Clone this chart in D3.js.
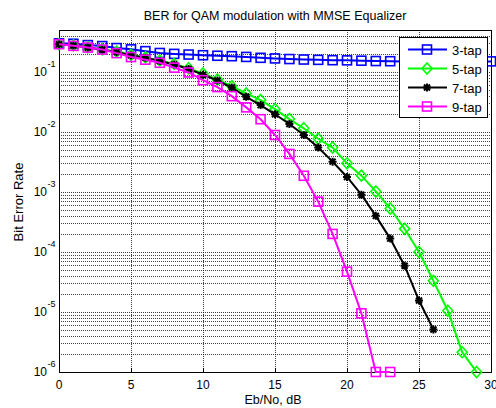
<!DOCTYPE html>
<html>
<head>
<meta charset="utf-8" />
<title>BER</title>
<style>
    body { margin: 0; background: #fff; }
    text { font-family: "Liberation Sans", Arial, sans-serif; fill: #000; }
</style>
</head>
<body>
<div id="chart"></div>
<script src="https://cdnjs.cloudflare.com/ajax/libs/d3/7.8.5/d3.min.js"></script>
<script>
    // Eb/No values (dB)
    var ebno = d3.range(0, 31);

    var tap3 = [0.30, 0.295, 0.28, 0.27, 0.25, 0.238, 0.222, 0.207, 0.20, 0.195, 0.19, 0.186, 0.183, 0.178, 0.172, 0.168,
        0.164, 0.161, 0.159, 0.157, 0.156, 0.154, 0.152, 0.151, 0.150, 0.150, 0.150, 0.150, 0.150, 0.150, 0.150];
    var tap5 = [0.29, 0.277, 0.258, 0.238, 0.218, 0.193, 0.175, 0.155, 0.136, 0.115, 0.094, 0.075, 0.058, 0.0439, 0.034,
        0.024, 0.0164, 0.0115, 0.0077, 0.0055, 0.0030, 0.00187, 0.00102, 5.3e-4, 2.43e-4, 1.0e-4, 3.3e-5, 1.05e-5, 2.14e-6, 1e-6];
    var tap7 = [0.29, 0.275, 0.255, 0.235, 0.215, 0.19, 0.172, 0.152, 0.133, 0.112, 0.09, 0.072, 0.055, 0.0385, 0.028,
        0.0197, 0.0136, 0.0089, 0.0055, 0.0032, 0.00178, 9.0e-4, 4.0e-4, 1.67e-4, 5.9e-5, 1.55e-5, 5.1e-6];
    var tap9 = [0.29, 0.272, 0.255, 0.236, 0.206, 0.177, 0.16, 0.142, 0.118, 0.098, 0.073, 0.056, 0.0395, 0.0257, 0.0163,
        0.0089, 0.0043, 0.00186, 6.9e-4, 2.0e-4, 4.7e-5, 9.5e-6, 1e-6, 1e-6];

    var xTicks = [0, 5, 10, 15, 20, 25, 30];
    var yDecades = [-6, -5, -4, -3, -2, -1];

    var series = [
        { name: "3-tap", values: tap3, color: "#0000ff", marker: "square" },
        { name: "5-tap", values: tap5, color: "#00ff00", marker: "diamond" },
        { name: "7-tap", values: tap7, color: "#000000", marker: "star" },
        { name: "9-tap", values: tap9, color: "#ff00ff", marker: "square" }
    ];

    var width = 496, height = 408;
    var plotLeft = 59, plotRight = 491, plotTop = 30, plotBottom = 372;

    var svg = d3.select("#chart").append("svg")
        .attr("width", width)
        .attr("height", height);

    var x = d3.scaleLinear().domain([0, 30]).range([plotLeft, plotRight]);
    var y = d3.scaleLog().domain([1e-6, 0.5]).range([plotBottom, plotTop]);

    // grid
    var grid = svg.append("g")
        .attr("stroke", "#000")
        .attr("stroke-width", 1)
        .attr("stroke-opacity", 0.75)
        .attr("stroke-dasharray", "1,1")
        .attr("shape-rendering", "crispEdges");

    var yGrid = [];
    yDecades.forEach(function (e) {
        for (var m = 1; m <= 9; m++) {
            var v = m * Math.pow(10, e);
            if (v <= 0.5 && v > 1e-6) yGrid.push(v);
        }
    });
    grid.selectAll("line.y")
        .data(yGrid)
        .join("line")
        .attr("x1", plotLeft).attr("x2", plotRight)
        .attr("y1", d => Math.round(y(d)) + 0.5)
        .attr("y2", d => Math.round(y(d)) + 0.5);
    grid.selectAll("line.x")
        .data(xTicks.slice(1, -1))
        .join("line")
        .attr("y1", plotTop).attr("y2", plotBottom)
        .attr("x1", d => Math.round(x(d)) + 0.5)
        .attr("x2", d => Math.round(x(d)) + 0.5);

    // axes box and ticks
    var axis = svg.append("g")
        .attr("stroke", "#000")
        .attr("shape-rendering", "crispEdges");
    axis.append("rect")
        .attr("x", plotLeft + 0.5).attr("y", plotTop + 0.5)
        .attr("width", plotRight - plotLeft).attr("height", plotBottom - plotTop)
        .attr("fill", "none");
    axis.selectAll("line.xt")
        .data(xTicks)
        .join("line")
        .attr("x1", d => Math.round(x(d)) + 0.5)
        .attr("x2", d => Math.round(x(d)) + 0.5)
        .attr("y1", plotBottom).attr("y2", plotBottom - 4);

    svg.append("g")
        .attr("font-size", 12)
        .attr("text-anchor", "middle")
        .selectAll("text")
        .data(xTicks)
        .join("text")
        .attr("x", d => x(d))
        .attr("y", 389)
        .text(d => d);

    var yl = svg.append("g")
        .attr("font-size", 12)
        .selectAll("g")
        .data(yDecades)
        .join("g")
        .attr("transform", d => "translate(0," + y(Math.pow(10, d)) + ")");
    yl.append("text")
        .attr("x", 47).attr("y", 4.3)
        .attr("text-anchor", "end")
        .text("10");
    yl.append("text")
        .attr("x", 47.5).attr("y", -5)
        .attr("font-size", 9)
        .text(d => d);

    // title and labels
    svg.append("text")
        .attr("x", 275).attr("y", 19.5)
        .attr("text-anchor", "middle")
        .attr("font-size", 12.5)
        .text("BER for QAM modulation with MMSE Equalizer");
    svg.append("text")
        .attr("x", 273).attr("y", 404)
        .attr("text-anchor", "middle")
        .attr("font-size", 12.5)
        .text("Eb/No, dB");
    svg.append("text")
        .attr("transform", "translate(23,202) rotate(-90)")
        .attr("text-anchor", "middle")
        .attr("font-size", 13)
        .text("Bit Error Rate");

    function drawMarker(g, type, color) {
        if (type === "square") {
            g.append("rect")
                .attr("x", -4.5).attr("y", -4.5)
                .attr("width", 9).attr("height", 9)
                .attr("fill", "none")
                .attr("stroke", color)
                .attr("stroke-width", 1.6);
        } else if (type === "diamond") {
            g.append("path")
                .attr("d", "M0,-5.5L5,0L0,5.5L-5,0Z")
                .attr("fill", "none")
                .attr("stroke", color)
                .attr("stroke-width", 1.6);
        } else {
            g.append("path")
                .attr("d", "M-4,0L4,0M0,-4L0,4M-3,-3L3,3M-3,3L3,-3")
                .attr("stroke", color)
                .attr("stroke-width", 2);
        }
    }

    var line = d3.line()
        .x((d, i) => x(ebno[i]))
        .y(d => y(d));

    var plot = svg.append("g");
    series.forEach(function (s) {
        var g = plot.append("g");
        g.append("path")
            .attr("d", line(s.values))
            .attr("fill", "none")
            .attr("stroke", s.color)
            .attr("stroke-width", 2);
        g.selectAll("g")
            .data(s.values)
            .join("g")
            .attr("transform", (d, i) => "translate(" + x(ebno[i]) + "," + y(d) + ")")
            .each(function () { drawMarker(d3.select(this), s.marker, s.color); });
    });

    // legend
    var legend = svg.append("g").attr("transform", "translate(399,37)");
    legend.append("rect")
        .attr("x", 0.5).attr("y", 0.5)
        .attr("width", 88).attr("height", 80)
        .attr("fill", "#fff")
        .attr("stroke", "#000")
        .attr("shape-rendering", "crispEdges");
    var items = legend.selectAll("g")
        .data(series)
        .join("g")
        .attr("transform", (d, i) => "translate(0," + (12.5 + i * 19) + ")");
    items.append("line")
        .attr("x1", 9).attr("x2", 48)
        .attr("stroke", d => d.color)
        .attr("stroke-width", 2);
    items.each(function (d) {
        var m = d3.select(this).append("g").attr("transform", "translate(28,0)");
        drawMarker(m, d.marker, d.color);
    });
    items.append("text")
        .attr("x", 53).attr("y", 5)
        .attr("font-size", 13)
        .text(d => d.name);
</script>
</body>
</html>
